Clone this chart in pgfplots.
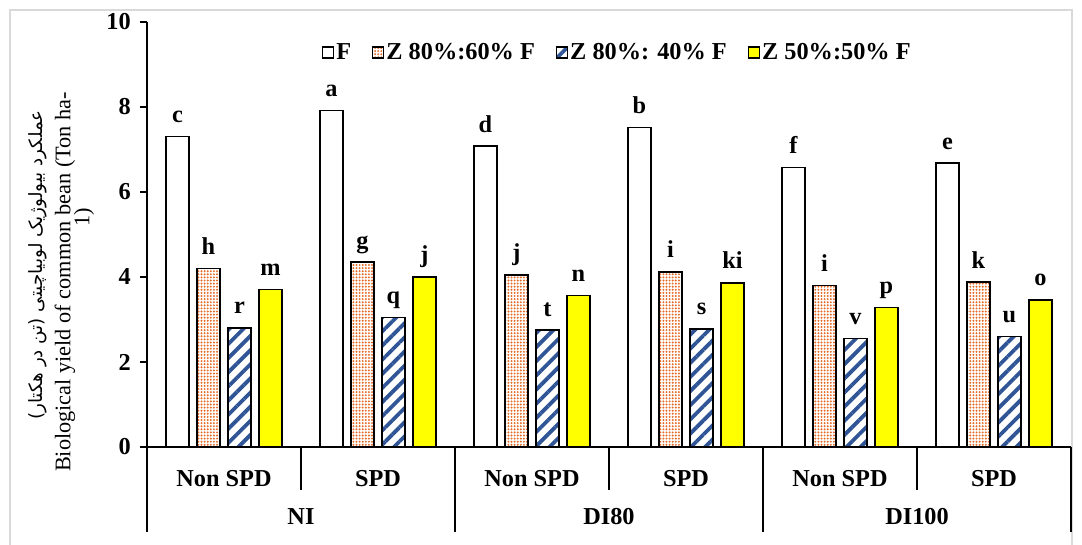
\documentclass[border=0pt]{standalone}
\usepackage{pgfplots}
\pgfplotsset{compat=1.18}
\usetikzlibrary{patterns.meta}
\usepackage{fontspec}
\setmainfont{Liberation Serif}
\newfontfamily\arabicfont[Script=Arabic]{DejaVu Sans}
\TeXXeTstate=1
\definecolor{dotor}{RGB}{228,108,40}
\definecolor{stripe}{RGB}{47,85,151}
\definecolor{ylw}{RGB}{255,255,0}
\definecolor{framegray}{RGB}{217,217,217}
\newcommand{\bigbf}{\fontsize{24.3}{27}\selectfont\bfseries}
\begin{document}
\begin{tikzpicture}[x=1pt,y=1pt]
\useasboundingbox (0,0) rectangle (1082,544);
\draw[framegray, line width=1.2pt] (10,-5) -- (10,534) -- (1072,534) -- (1072,-5);
\begin{axis}[
  at={(147pt,97pt)}, anchor=south west,
  scale only axis, width=924pt, height=425pt,
  xmin=0, xmax=6, ymin=0, ymax=10,
  axis x line*=bottom, axis y line*=left,
  axis line style={line width=2pt, black},
  ytick={0,2,...,10},
  xtick={0.5,1.5,...,5.5},
  xticklabels={Non SPD,SPD,Non SPD,SPD,Non SPD,SPD},
  xtick style={draw=none},
  ytick style={line width=1.5pt, black},
  tick align=outside, major tick length=7pt,
  /pgf/number format/assume math mode=true,
  ticklabel style={font=\bigbf},
  xticklabel style={anchor=center, yshift=-25pt},
  yticklabel style={anchor=east, inner xsep=9pt},
  ybar=8pt, bar width=23pt,
  clip=false,
  point meta=explicit symbolic,
  nodes near coords,
  every node near coord/.append style={font=\bigbf, anchor=base, yshift=14pt, black},
  legend columns=4,
  legend style={draw=none, fill=none, at={(0.509,0.928)}, anchor=center,
    font=\bigbf, nodes={inner sep=2pt},
    /tikz/every even column/.append style={column sep=19pt}},
  legend image code/.code={\draw[#1, line width=1.3pt] (0pt,-5.5pt) rectangle (11pt,5.5pt);},
]
\addplot[draw=black, line width=1.4pt, fill=white] coordinates {(0.5,7.30)[c] (1.5,7.92)[a] (2.5,7.08)[d] (3.5,7.52)[b] (4.5,6.57)[f] (5.5,6.68)[e]};
\addplot[draw=black, line width=1.4pt, pattern={Dots[radius=1.1pt, distance=3.1pt]}, pattern color=dotor] coordinates {(0.5,4.20)[h] (1.5,4.35)[g] (2.5,4.05)[j] (3.5,4.12)[i] (4.5,3.80)[i] (5.5,3.88)[k]};
\addplot[draw=black, line width=1.4pt, pattern={Lines[angle=45, distance=10pt, line width=3.8pt]}, pattern color=stripe] coordinates {(0.5,2.80)[r] (1.5,3.05)[q] (2.5,2.75)[t] (3.5,2.78)[s] (4.5,2.55)[v] (5.5,2.60)[u]};
\addplot[draw=black, line width=1.4pt, fill=ylw] coordinates {(0.5,3.70)[m] (1.5,4.00)[j] (2.5,3.57)[n] (3.5,3.86)[ki] (4.5,3.28)[p] (5.5,3.46)[o]};
\legend{F, Z 80\%:60\% F, Z 80\%: 40\% F, Z 50\%:50\% F}
\draw[line width=2pt] (axis cs:0,0) -- ++(0pt,-85pt);
\draw[line width=2pt] (axis cs:2,0) -- ++(0pt,-85pt);
\draw[line width=2pt] (axis cs:4,0) -- ++(0pt,-85pt);
\draw[line width=2pt] (axis cs:6,0) -- ++(0pt,-85pt);
\draw[line width=2pt] (axis cs:1,0) -- ++(0pt,-43pt);
\draw[line width=2pt] (axis cs:3,0) -- ++(0pt,-43pt);
\draw[line width=2pt] (axis cs:5,0) -- ++(0pt,-43pt);
\node[font=\bigbf] at ([yshift=-70pt]axis cs:1,0) {NI};
\node[font=\bigbf] at ([yshift=-70pt]axis cs:3,0) {DI80};
\node[font=\bigbf] at ([yshift=-70pt]axis cs:5,0) {DI100};
\end{axis}
\node[rotate=90, font=\arabicfont\fontsize{18.3}{21}\selectfont] at (38,279) {\beginR عملکرد بیولوژیک لوبیاچیتی (تن در هکتار)\endR};
\node[rotate=90, font=\fontsize{22.3}{25}\selectfont] at (65,262) {Biological yield of common bean (Ton ha-};
\node[rotate=90, font=\fontsize{22.3}{25}\selectfont] at (84,327) {1)};
\end{tikzpicture}
\end{document}
